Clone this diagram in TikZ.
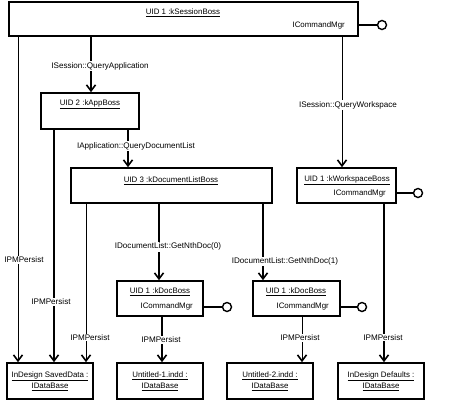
\documentclass[tikz,border=0pt]{standalone}
\usepackage{fontspec}
\setmainfont{Liberation Sans}
\usetikzlibrary{arrows.meta}

\begin{document}
\begin{tikzpicture}[x=1pt,y=-1pt,
  boss/.style={draw,line width=1.6pt,rectangle,inner sep=0pt},
  db/.style={draw,line width=1.6pt,rectangle,inner sep=0pt,minimum width=86pt,minimum height=36pt,align=center,font=\fontsize{7.9}{11}\selectfont},
  txt/.style={inner sep=0pt,font=\fontsize{7.9}{9}\selectfont},
  lbl/.style={fill=white,inner sep=1pt,font=\fontsize{8.1}{9}\selectfont},
  lolli/.style={circle,draw,line width=1.4pt,minimum size=9pt,inner sep=0pt},
  thick link/.style={line width=1.6pt,-{Straight Barb[length=6pt,width=9pt,line width=1.6pt]}},
  thin link/.style={line width=0.8pt,-{Straight Barb[length=6pt,width=9pt,line width=1.6pt]}}]
  \useasboundingbox (0,0) rectangle (465,418);

  \node[boss,minimum width=349pt,minimum height=34pt] (session) at (183.5,19) {};
  \node[txt] (sessiontitle) at (183,13) {\underline{UID 1 :kSessionBoss}};
  \node[txt,anchor=east] (sessionif) at (345,25) {ICommandMgr};
  \node[lolli] (sessionlolli) at (382,25) {};

  \node[boss,minimum width=98pt,minimum height=36pt] (app) at (90,111) {};
  \node[txt] (apptitle) at (90,104) {\underline{UID 2 :kAppBoss}};

  \node[boss,minimum width=201pt,minimum height=35pt] (doclist) at (171.5,185.5) {};
  \node[txt] (doclisttitle) at (171,181) {\underline{UID 3 :kDocumentListBoss}};

  \node[boss,minimum width=99pt,minimum height=35pt] (workspace) at (346.5,185.5) {};
  \node[txt] (workspacetitle) at (347,180) {\underline{UID 1 :kWorkspaceBoss}};
  \node[txt,anchor=east] (workspaceif) at (386,193) {ICommandMgr};
  \node[lolli] (workspacelolli) at (418,193) {};

  \node[boss,minimum width=86pt,minimum height=35pt] (doc1) at (160,298.5) {};
  \node[txt] (doc1title) at (160,292) {\underline{UID 1 :kDocBoss}};
  \node[txt,anchor=east] (doc1if) at (193,306) {ICommandMgr};
  \node[lolli] (doc1lolli) at (227,307) {};

  \node[boss,minimum width=87pt,minimum height=35pt] (doc2) at (296.5,298.5) {};
  \node[txt] (doc2title) at (296,292) {\underline{UID 1 :kDocBoss}};
  \node[txt,anchor=east] (doc2if) at (329,306) {ICommandMgr};
  \node[lolli] (doc2lolli) at (362,307) {};

  \node[db] (saved) at (50,381) {\underline{InDesign SavedData :}\\\underline{IDataBase}};
  \node[db] (untitled1) at (160,381) {\underline{Untitled-1.indd :}\\\underline{IDataBase}};
  \node[db] (untitled2) at (270,381) {\underline{Untitled-2.indd :}\\\underline{IDataBase}};
  \node[db] (defaults) at (381,381) {\underline{InDesign Defaults :}\\\underline{IDataBase}};

  \draw[line width=1.6pt] (sessionlolli.west) -- (sessionlolli -| session.east);
  \draw[line width=1.6pt] (workspacelolli.west) -- (workspacelolli -| workspace.east);
  \draw[line width=1.6pt] (doc1lolli.west) -- (doc1lolli -| doc1.east);
  \draw[line width=1.6pt] (doc2lolli.west) -- (doc2lolli -| doc2.east);

 \path[]
 (session.south -| 18,0) edge[thin link] node[lbl,pos=0.685,xshift=6pt] {IPMPersist} (saved.north -| 18,0)
 (session.south -| 91,0) edge[thick link] node[lbl,pos=0.526,xshift=9pt] {ISession::QueryApplication} (app.north -| 91,0)
 (session.south -| 342,0) edge[thin link] node[lbl,pos=0.523,xshift=6pt] {ISession::QueryWorkspace} (workspace.north -| 342,0)
 (app.south -| 54,0) edge[thick link] node[lbl,pos=0.739,xshift=-3pt] {IPMPersist} (saved.north -| 54,0)
 (app.south -| 128,0) edge[thick link] node[lbl,pos=0.436,xshift=8pt] {IApplication::QueryDocumentList} (doclist.north -| 128,0)
 (doclist.south -| 86,0) edge[thin link] node[lbl,pos=0.844,xshift=4pt] {IPMPersist} (saved.north -| 86,0)
 (doclist.south -| 159,0) edge[thick link] node[lbl,pos=0.564,xshift=9pt] {IDocumentList::GetNthDoc(0)} (doc1.north -| 159,0)
 (doclist.south -| 263,0) edge[thick link] node[lbl,pos=0.756,xshift=22pt] {IDocumentList::GetNthDoc(1)} (doc2.north -| 263,0)
 (workspace.south -| 384,0) edge[thick link] node[lbl,pos=0.844,xshift=-1pt] {IPMPersist} (defaults.north -| 384,0)
 (doc1.south -| 162,0) edge[thick link] node[lbl,pos=0.51,xshift=-1pt] {IPMPersist} (untitled1.north -| 162,0)
 (doc2.south -| 302,0) edge[thin link] node[lbl,pos=0.468,xshift=-2pt] {IPMPersist} (untitled2.north -| 302,0);
\end{tikzpicture}
\end{document}
